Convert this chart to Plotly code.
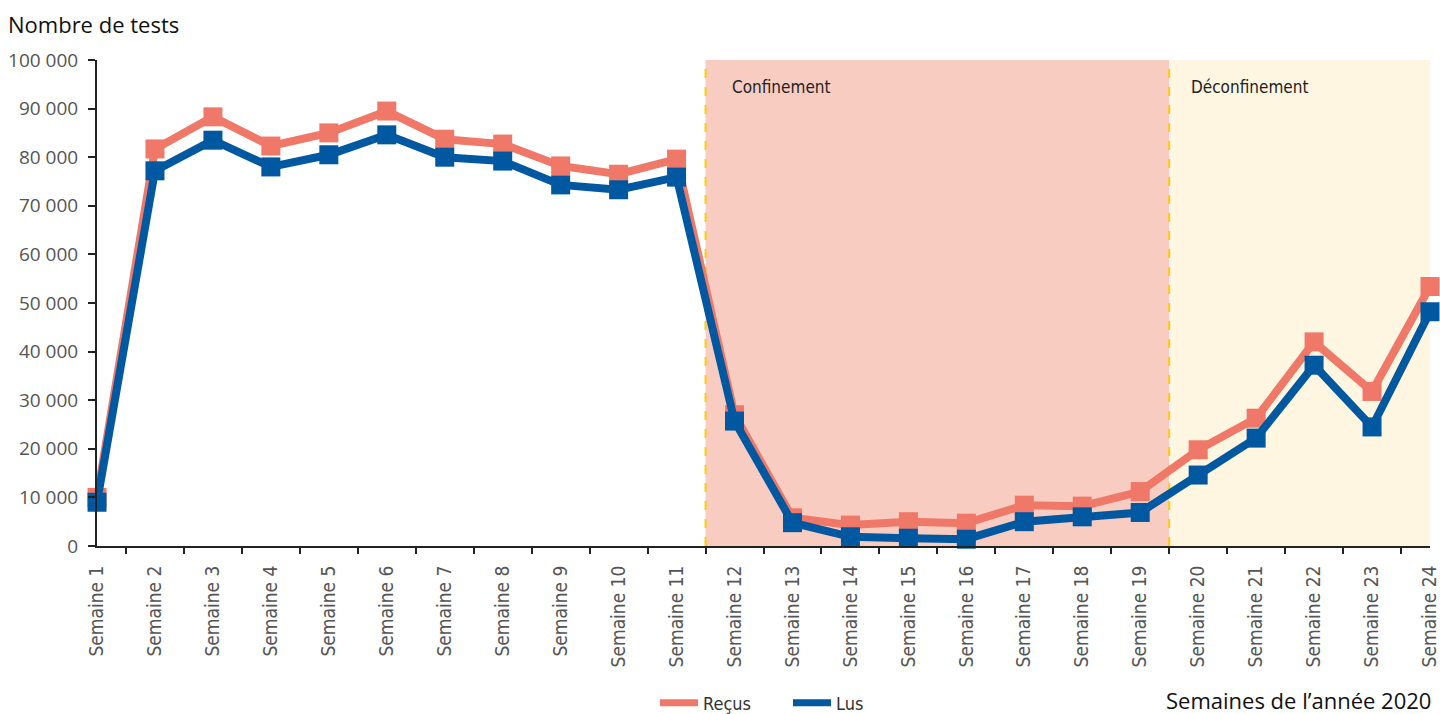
import plotly.graph_objects as go

weeks = list(range(1, 25))
week_labels = [f"Semaine {w}" for w in weeks]
recus = [10000, 81700, 88300, 82300, 85000, 89500, 83700, 82700, 78200, 76500, 79600,
         27000, 5800, 4300, 5000, 4700, 8400, 8200, 11200, 19800, 26300, 42000, 31800, 53400]
lus = [9000, 77200, 83500, 78000, 80500, 84600, 80000, 79200, 74300, 73300, 75900,
       25700, 4800, 1900, 1600, 1400, 5000, 6000, 6900, 14600, 22200, 37200, 24500, 48200]
y_ticks = list(range(0, 100001, 10000))
y_tick_labels = [f"{v:,}".replace(",", " ") for v in y_ticks]
confinement = (11.5, 19.5)
deconfinement = (19.5, 24)

C_RECUS = "#EF7868"
C_LUS = "#0059A0"
NARROW = "DejaVu Sans Condensed"
REG = "Open Sans, Noto Sans, sans-serif"

fig = go.Figure()
fig.add_trace(go.Scatter(x=weeks, y=recus, mode="lines+markers", name="Reçus",
                         line=dict(color=C_RECUS, width=8),
                         marker=dict(symbol="square", size=19, color=C_RECUS),
                         cliponaxis=False, showlegend=False))
fig.add_trace(go.Scatter(x=weeks, y=lus, mode="lines+markers", name="Lus",
                         line=dict(color=C_LUS, width=8),
                         marker=dict(symbol="square", size=19, color=C_LUS),
                         cliponaxis=False, showlegend=False))
# legend-only entries (line sample only)
fig.add_trace(go.Scatter(x=[None], y=[None], mode="lines", name="Reçus",
                         line=dict(color=C_RECUS, width=7)))
fig.add_trace(go.Scatter(x=[None], y=[None], mode="lines", name="Lus",
                         line=dict(color=C_LUS, width=7)))
# dummy trace for secondary x axis (ticks between categories)
fig.add_trace(go.Scatter(x=[weeks[0]], y=[None], xaxis="x2", showlegend=False,
                         hoverinfo="skip"))

fig.add_shape(type="rect", xref="x", yref="y", x0=confinement[0], x1=confinement[1],
              y0=0, y1=100000, fillcolor="#F8CCC0", line=dict(width=0), layer="below")
fig.add_shape(type="rect", xref="x", yref="y", x0=deconfinement[0], x1=deconfinement[1],
              y0=0, y1=100000, fillcolor="#FFF6E1", line=dict(width=0), layer="below")
for xv in (confinement[0], confinement[1]):
    fig.add_shape(type="line", xref="x", yref="y", x0=xv, x1=xv, y0=0, y1=100000,
                  line=dict(color="#FFCC00", width=2, dash="dash"), layer="below")

fig.add_annotation(x=confinement[0], y=100000, xref="x", yref="y", text="Confinement",
                   showarrow=False, xanchor="left", yanchor="middle", xshift=24, yshift=-27,
                   font=dict(family=NARROW, size=17, color="#222222"))
fig.add_annotation(x=deconfinement[0], y=100000, xref="x", yref="y", text="Déconfinement",
                   showarrow=False, xanchor="left", yanchor="middle", xshift=20, yshift=-27,
                   font=dict(family=NARROW, size=17, color="#222222"))
fig.add_annotation(x=-0.068, y=1.074, xref="paper", yref="paper", text="Nombre de tests",
                   showarrow=False, xanchor="left", yanchor="middle",
                   font=dict(family=REG, size=22, color="#111111"))
fig.add_annotation(x=1.0, y=-0.317, xref="paper", yref="paper", text="Semaines de l’année 2020",
                   showarrow=False, xanchor="right", yanchor="middle", xshift=2, borderpad=0,
                   font=dict(family=REG, size=22, color="#111111"))

fig.update_layout(
    width=1440, height=714,
    margin=dict(l=97, r=10, t=60, b=168, autoexpand=False),
    paper_bgcolor="white", plot_bgcolor="white",
    showlegend=True,
    legend=dict(orientation="h", x=(655 - 97) / 1333, y=11 / 714, xref="paper", yref="container",
                xanchor="left", yanchor="middle",
                font=dict(family=NARROW, size=18, color="#333333"),
                itemwidth=38, entrywidth=80, tracegroupgap=0, bgcolor="rgba(0,0,0,0)"),
    xaxis=dict(range=[0.9999, 24.0001], tickmode="array", tickvals=weeks, ticktext=week_labels,
               tickangle=-90, ticks="", showgrid=False, zeroline=False,
               showline=True, linecolor="#222222", linewidth=2,
               tickfont=dict(family=NARROW, size=19, color="#555555"),
               ticklabelstandoff=10, ticklabeloverflow="allow", automargin=False),
    xaxis2=dict(range=[0.9999, 24.0001], overlaying="x", anchor="y", side="bottom",
                tickmode="array", tickvals=[w + 0.5 for w in weeks[:-1]],
                ticks="outside", ticklen=7, tickwidth=2, tickcolor="#222222",
                showticklabels=False, showgrid=False, zeroline=False, showline=False,
                automargin=False),
    yaxis=dict(range=[0, 100000], tickmode="array", tickvals=y_ticks, ticktext=y_tick_labels,
               ticks="outside", ticklen=7, tickwidth=2, tickcolor="#222222",
               showgrid=False, zeroline=False, showline=True, linecolor="#222222", linewidth=2,
               tickfont=dict(family=REG, size=19, color="#555555"), ticklabelstandoff=6,
               automargin=False),
)

fig.write_html("out.html", config={"displayModeBar": False},
               post_script="document.body.style.margin='0';document.body.style.overflow='hidden';")
